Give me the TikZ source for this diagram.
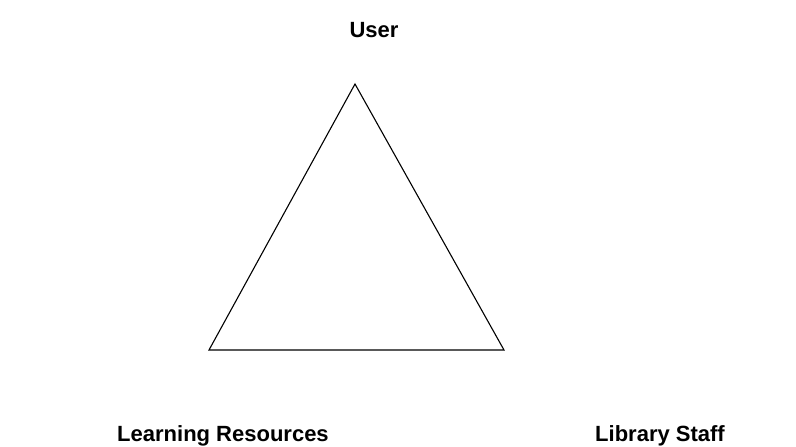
\documentclass[tikz,border=0pt]{standalone}
\usepackage{fontspec}
\setmainfont{Liberation Sans}
\begin{document}
\begin{tikzpicture}[x=1pt,y=-1pt,
  lbl/.style={font=\fontsize{22}{26}\selectfont\bfseries, inner sep=0pt, anchor=base},
  edge/.style={draw=black, line width=1.1pt, line join=miter}]
\useasboundingbox (0,0) rectangle (796,447);
\node[lbl] (user) at (374,37) {User};
\node[lbl] (learn) at (223,441) {Learning Resources};
\node[lbl] (staff) at (660,441) {Library Staff};
\coordinate (a) at (355,84);
\coordinate (b) at (209,350);
\coordinate (c) at (504,350);
\draw[edge] (a) -- (b) -- (c) -- cycle;
\end{tikzpicture}
\end{document}
